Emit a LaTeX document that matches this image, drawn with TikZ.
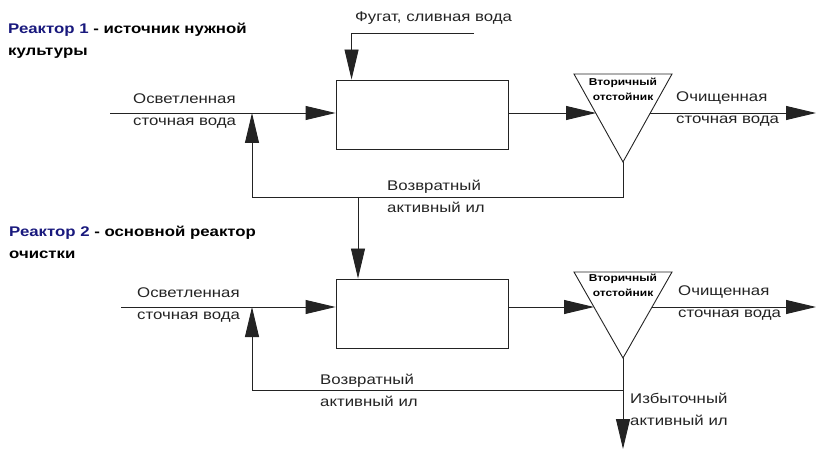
\documentclass[tikz,border=0pt]{standalone}
\usepackage{fontspec}
\setmainfont{Liberation Sans}
\newfontfamily\widefont[FakeStretch=1.2]{Liberation Sans}
\usetikzlibrary{arrows.meta}
\definecolor{navy}{RGB}{25,25,125}
\definecolor{ink}{RGB}{35,35,35}

\tikzset{
  flow/.style={draw=ink, line width=0.9pt},
  tip/.style={-{Triangle[length=30pt,width=14pt]}},
  reactor/.style={draw=ink, line width=0.9pt, minimum width=172pt, minimum height=69pt, inner sep=0pt},
  settler/.style={draw=ink, line width=0.9pt},
  lbl/.style={font=\widefont\fontsize{14}{22}\selectfont, text=ink, align=left, anchor=west, inner sep=0pt},
  stitle/.style={font=\widefont\bfseries\fontsize{10}{15}\selectfont, text=black, align=center, inner sep=0pt},
  ttl/.style={font=\widefont\bfseries\fontsize{14}{22}\selectfont, text=black, align=left, anchor=west, inner sep=0pt}
}

\begin{document}
\begin{tikzpicture}[x=1pt,y=-1pt]
\useasboundingbox (0,0) rectangle (817,449);

% ---------- stage 1: seed-culture reactor ----------
\node[ttl] (title1) at (8,40.5) {{\color{navy}Реактор 1} - источник нужной\\культуры};

\node[reactor] (r1) at (422,114.5) {};

\coordinate (s1a) at (574,74);
\coordinate (s1b) at (672,74);
\coordinate (s1c) at (623,162);
\draw[settler] (s1a) -- (s1b) -- (s1c) -- cycle;
\node[stitle] (s1t) at (623,89.5) {Вторичный\\отстойник};

\coordinate (in1) at (110,113);
\coordinate (j1) at (252,113);
\coordinate (s1in) at (596,113);
\coordinate (s1out) at (650,113);
\coordinate (out1) at (816,113);
\coordinate (ret1) at (623,197);
\coordinate (fg) at (474,33);
\coordinate (d1) at (358,197);

\draw[flow,tip] (in1) -- (in1 -| r1.west);
\draw[flow,tip] (fg) -| ([xshift=16pt]r1.north west);
\draw[flow,tip] (r1.east |- in1) -- (s1in);
\draw[flow,tip] (s1out) -- (out1);
\draw[flow,tip] (s1c) -- (ret1) -| (j1);

\node[lbl] (l1in) at (133,111) {Осветленная\\сточная вода};
\node[lbl] (l1fg) at (355,18) {Фугат, сливная вода};
\node[lbl] (l1out) at (676,109) {Очищенная\\сточная вода};
\node[lbl] (l1ret) at (387,196) {Возвратный\\активный ил};

% ---------- stage 2: main treatment reactor ----------
\node[ttl] (title2) at (9,242.5) {{\color{navy}Реактор 2} - основной реактор\\очистки};

\node[reactor] (r2) at (422,313.5) {};

\coordinate (s2a) at (574,272);
\coordinate (s2b) at (672,272);
\coordinate (s2c) at (623,358);
\draw[settler] (s2a) -- (s2b) -- (s2c) -- cycle;
\node[stitle] (s2t) at (623,285.5) {Вторичный\\отстойник};

\coordinate (in2) at (121,307);
\coordinate (j2) at (252,307);
\coordinate (s2in) at (594,307);
\coordinate (s2out) at (652,307);
\coordinate (out2) at (816,307);
\coordinate (ret2) at (623,390);
\coordinate (ex2) at (623,449);

\draw[flow,tip] (d1) -- (d1 |- r2.north);
\draw[flow,tip] (in2) -- (in2 -| r2.west);
\draw[flow,tip] (r2.east |- in2) -- (s2in);
\draw[flow,tip] (s2out) -- (out2);
\draw[flow,tip] (ret2) -| (j2);
\draw[flow,tip] (s2c) -- (ex2);

\node[lbl] (l2in) at (137,305.5) {Осветленная\\сточная вода};
\node[lbl] (l2out) at (678,303.5) {Очищенная\\сточная вода};
\node[lbl] (l2ret) at (320,390) {Возвратный\\активный ил};
\node[lbl] (l2ex) at (630,409.5) {Избыточный\\активный ил};
\end{tikzpicture}
\end{document}
